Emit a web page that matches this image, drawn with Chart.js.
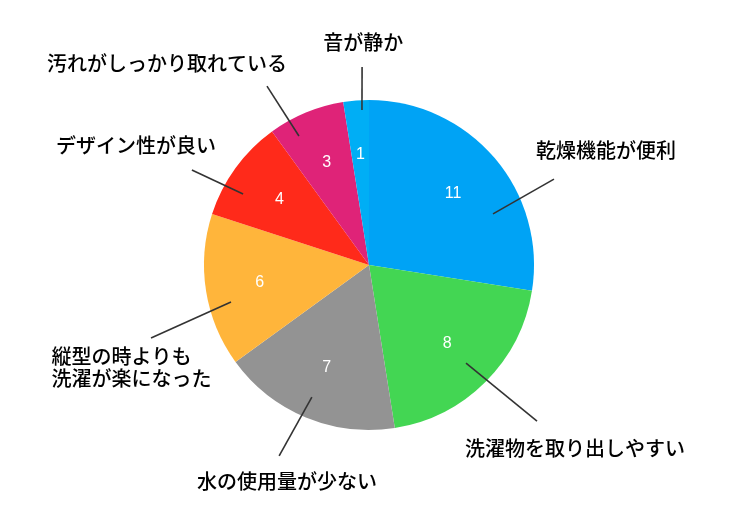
<!DOCTYPE html>
<html>
<head>
<meta charset="utf-8">
<script src="https://cdn.jsdelivr.net/npm/chart.js@4"></script>
<style>
html,body{margin:0;padding:0;background:#fff;}
#wrap{width:733px;height:527px;}
</style>
</head>
<body>
<div id="wrap"><canvas id="c" width="733" height="527"></canvas></div>
<script>
// ---- data ----
const categories = ['乾燥機能が便利','洗濯物を取り出しやすい','水の使用量が少ない','縦型の時よりも\n洗濯が楽になった','デザイン性が良い','汚れがしっかり取れている','音が静か'];
const values = [11, 8, 7, 6, 4, 3, 1];
const colors = ['#00A3F5','#43D653','#939393','#FFB53B','#FF2A1A','#DF2378','#00AEF5'];

// ---- label layout (angle offset from slice middle in degrees, radii as multiples of outer radius) ----
const leaderLayout = [
  {da:18.1, rIn:0.813, dOut:15.6, rOut:1.236, dLab:14.6, rLab:1.596},
  {da:0.3,  rIn:0.836, dOut:-2.1, rOut:1.390, dLab:-3.4, rLab:1.670},
  {da:0.9,  rIn:0.872, dOut:2.7,  rOut:1.279, dLab:-1.7, rLab:1.400},
  {da:-6.0, rIn:0.866, dOut:-9.5, rOut:1.393, dLab:-14.4,rLab:1.569},
  {da:-6.6, rIn:0.876, dOut:-7.8, rOut:1.218, dLab:-8.8, rLab:1.588},
  {da:-6.0, rIn:0.890, dOut:-7.2, rOut:1.248, dLab:-22.5,rLab:1.732},
  {da:1.9,  rIn:0.941, dOut:2.5,  rOut:1.201, dLab:3.0,  rLab:1.352}
];

const labelPlugin = {
  id: 'pieLabels',
  afterDatasetsDraw(chart) {
    const ctx = chart.ctx;
    const meta = chart.getDatasetMeta(0);
    const deg = Math.PI / 180;
    meta.data.forEach((arc, i) => {
      const p = arc.getProps(['x','y','startAngle','endAngle','outerRadius'], true);
      const mid = (p.startAngle + p.endAngle) / 2;
      const R = p.outerRadius;
      const pt = (a, r) => [p.x + Math.cos(a) * r * R, p.y + Math.sin(a) * r * R];
      // value label
      ctx.save();
      ctx.fillStyle = '#ffffff';
      ctx.font = '16px "Liberation Sans", Arial, sans-serif';
      ctx.textAlign = 'center';
      ctx.textBaseline = 'middle';
      const v = pt(mid, 0.67);
      ctx.fillText(String(values[i]), v[0], v[1]);
      // leader line
      const L = leaderLayout[i];
      const a = pt(mid + L.da * deg, L.rIn);
      const b = pt(mid + L.dOut * deg, L.rOut);
      ctx.strokeStyle = '#333333';
      ctx.lineWidth = 1.6;
      ctx.beginPath();
      ctx.moveTo(a[0], a[1]);
      ctx.lineTo(b[0], b[1]);
      ctx.stroke();
      // category label
      const c = pt(mid + L.dLab * deg, L.rLab);
      ctx.fillStyle = '#000000';
      ctx.font = '500 20px "Noto Sans CJK JP", sans-serif';
      const lines = categories[i].split('\n');
      const lh = 22;
      const w = Math.max(...lines.map(s => ctx.measureText(s).width));
      ctx.textAlign = 'left';
      lines.forEach((s, k) => {
        const y = c[1] + (k - (lines.length - 1) / 2) * lh;
        ctx.fillText(s, c[0] - w / 2, y);
      });
      ctx.restore();
    });
  }
};

new Chart(document.getElementById('c'), {
  type: 'pie',
  data: {
    labels: categories,
    datasets: [{ data: values, backgroundColor: colors, borderWidth: 0 }]
  },
  options: {
    responsive: false,
    animation: false,
    layout: { padding: { left: 104, right: 99, top: 100, bottom: 97 } },
    plugins: { legend: { display: false }, tooltip: { enabled: false } }
  },
  plugins: [labelPlugin]
});
</script>
</body>
</html>
